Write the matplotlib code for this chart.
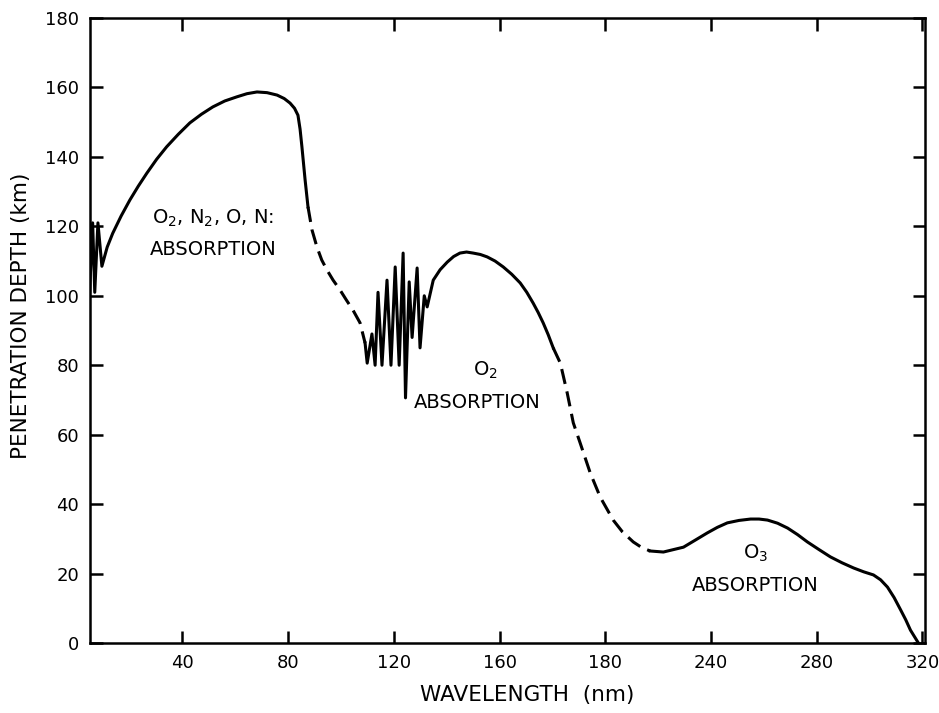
import numpy as np
import matplotlib
matplotlib.use('Agg')
import matplotlib.pyplot as plt

# curve, split into solid / dashed pieces
seg1_x = [4.5, 6.0, 6.8, 8.0, 9.5, 11.5, 13.6, 16.8, 20.1, 23.3, 26.5, 30.2, 34.0, 38.4,
          42.8, 47.2, 51.5, 56.0, 60.6, 64.4, 68.2, 72.0, 75.8, 78.5, 80.7, 82.4,
          83.7, 84.5, 85.2, 86.4, 87.5]
seg1_y = [95, 121, 101, 121, 108.5, 114, 118, 123, 127.6, 131.6, 135.3, 139.3, 142.9, 146.5,
          149.8, 152.3, 154.4, 156.1, 157.3, 158.2, 158.7, 158.5, 157.8, 156.8, 155.5, 154.0,
          152, 148, 142.9, 133.4, 125.6]

dash1_x = [87.5, 89.0, 90.9, 92.7, 94.7, 97.0, 99.6, 102.0, 104.5, 107.2, 109.1]
dash1_y = [125.6, 119, 114, 110.3, 107.4, 104.5, 101.7, 98.8, 95.9, 92.2, 86.4]

seg2_x = [109.1, 109.9, 111.7, 112.9, 114.0, 115.5, 117.4, 118.9, 120.5, 122.0, 123.5,
          124.4, 125.8, 126.9, 128.8, 129.9, 131.5, 132.6, 134.9, 137.5, 140.2, 142.6,
          145.0, 147.5, 150.0, 152.7, 155.3, 158.3, 161.4, 164.6, 167.8, 170.3, 172.7,
          174.6, 176.5, 178.4, 180.3]
seg2_y = [86.4, 80.6, 89, 80, 101, 80, 104.5, 80, 108.3, 80, 112.3,
          70.6, 104, 88, 108, 85, 100, 96.8, 104.5, 107.5, 109.7, 111.3,
          112.3, 112.6, 112.3, 111.9, 111.2, 110.0, 108.3, 106.2, 103.7, 101.0, 97.9,
          95.2, 92.2, 88.8, 85]

dash2_x = [180.3, 183.0, 185.6, 187.9, 190.5, 194.3, 198.1, 203.0, 206.5, 210.6, 214.0, 217.0]
dash2_y = [85, 80.6, 72, 63.4, 57.6, 49, 42, 35.4, 32.0, 29.1, 27.4, 26.5]

seg3_x = [217.0, 222.0, 229.6, 234.0, 238.6, 242.4, 246.2, 250.6, 255.0, 258.2, 261.4,
          265.2, 269.0, 272.8, 276.5, 280.9, 285.2, 289.6, 294.0, 297.8, 301.5, 304.2,
          306.8, 309.3, 311.8, 313.7, 315.5, 318.5]
seg3_y = [26.5, 26.2, 27.6, 29.6, 31.7, 33.3, 34.6, 35.3, 35.7, 35.7, 35.4,
          34.5, 33.1, 31.2, 29.1, 26.9, 24.8, 23.1, 21.6, 20.5, 19.6, 18.2,
          16.1, 13.1, 9.5, 6.7, 3.7, 0]

x_ticks = [40, 80, 120, 160, 200, 240, 280, 320]
x_labels = ['40', '80', '120', '160', '180', '240', '280', '320']
y_ticks = [0, 20, 40, 60, 80, 100, 120, 140, 160, 180]

plt.rcParams['mathtext.default'] = 'regular'

fig = plt.figure(figsize=(9.39, 7.13), dpi=100)
ax = fig.add_axes([90/939, 70/713, 835/939, 625/713])

lw = 2.2
ax.plot(seg1_x, seg1_y, color='black', lw=lw, solid_joinstyle='round')
ax.plot(dash1_x, dash1_y, color='black', lw=lw, dashes=(5, 2.5))
ax.plot(seg2_x, seg2_y, color='black', lw=lw, solid_joinstyle='round')
ax.plot(dash2_x, dash2_y, color='black', lw=lw, dashes=(5, 2.5))
ax.plot(seg3_x, seg3_y, color='black', lw=lw, solid_joinstyle='round')

ax.set_xlim(5, 321)
ax.set_ylim(0, 180)
ax.set_xticks(x_ticks)
ax.set_xticklabels(x_labels)
ax.set_yticks(y_ticks)
ax.tick_params(direction='in', length=9, width=1.8, labelsize=13, pad=8,
               top=True, right=True)

for s in ax.spines.values():
    s.set_linewidth(1.8)

tfont = dict(fontsize=14, ha='center', va='center')
ax.text(51.5, 122.4, 'O$_2$, N$_2$, O, N:', **tfont)
ax.text(51.5, 113.2, 'ABSORPTION', **tfont)
ax.text(154.5, 78.6, 'O$_2$', **tfont)
ax.text(151.5, 69.4, 'ABSORPTION', **tfont)
ax.text(256.8, 25.9, 'O$_3$', **tfont)
ax.text(256.8, 16.7, 'ABSORPTION', **tfont)

fig.text(527/939, 1 - 695/713, 'WAVELENGTH  (nm)', fontsize=15.5, ha='center', va='center')
fig.text(21/939, 1 - 316/713, 'PENETRATION DEPTH (km)', fontsize=15.5, rotation=90,
         ha='center', va='center')

fig.savefig('out.png', dpi=100)
